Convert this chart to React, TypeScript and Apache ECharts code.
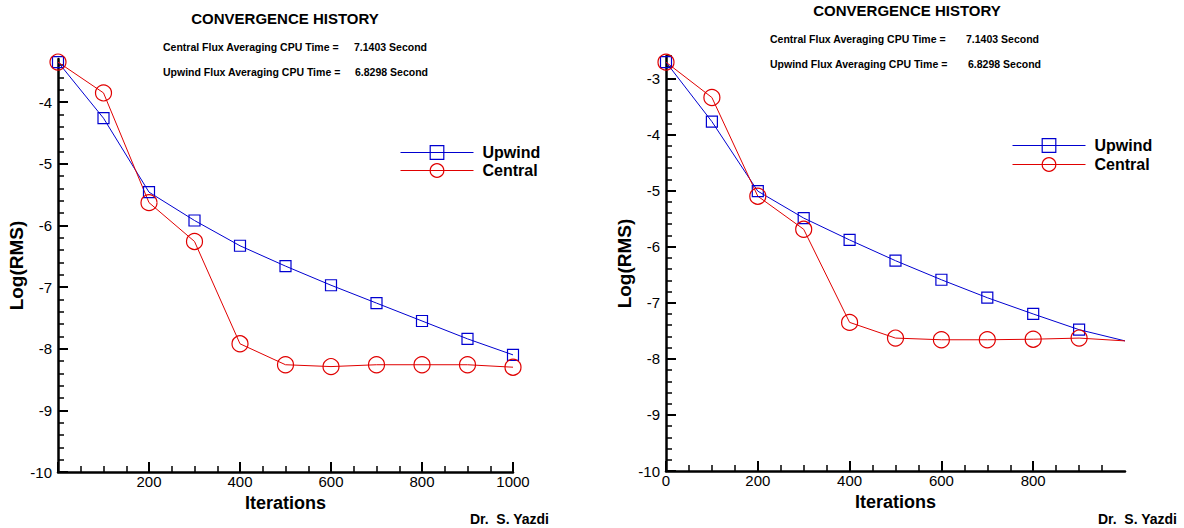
import React, { useEffect, useRef } from "react";
import * as echarts from "echarts";

const iterations = [0, 100, 200, 300, 400, 500, 600, 700, 800, 900, 1000];
const leftUpwind = [-3.35, -4.26, -5.46, -5.92, -6.33, -6.66, -6.97, -7.26, -7.55, -7.84, -8.1];
const leftCentral = [-3.35, -3.85, -5.63, -6.26, -7.92, -8.26, -8.29, -8.26, -8.26, -8.26, -8.3];
const rightUpwind = [-2.71, -3.77, -5.01, -5.49, -5.88, -6.25, -6.59, -6.91, -7.2, -7.48, -7.68];
const rightCentral = [-2.71, -3.34, -5.1, -5.69, -7.35, -7.63, -7.66, -7.66, -7.65, -7.63, -7.68];

const leftYMajor = [-10, -9, -8, -7, -6, -5, -4];
const rightYMajor = [-10, -9, -8, -7, -6, -5, -4, -3];
const rightXMajor = [0, 200, 400, 600, 800];

const titleText = "CONVERGENCE HISTORY";
const centralLabel = "Central Flux Averaging CPU Time =";
const upwindLabel = "Upwind Flux Averaging CPU Time =";
const centralTime = "7.1403 Second";
const upwindTime = "6.8298 Second";
const author = "Dr.  S. Yazdi";

const FONT = "Liberation Sans, Arial, Helvetica, sans-serif";
const BLUE = "#0000d0";
const RED = "#e00000";

function minorValues(min: number, max: number, step: number) {
  const out: number[] = [];
  for (let v = min; v <= max + 1e-9; v += step) out.push(Math.round(v * 100) / 100);
  return out;
}

function pts(vals: number[], hideLast: boolean) {
  return vals.map((v, i) =>
    hideLast && i === vals.length - 1
      ? { value: [iterations[i], v], symbol: "none" }
      : [iterations[i], v]
  );
}

function xAxisCfg(gridIndex: number, hideMin: boolean, custom?: number[]) {
  return {
    type: "value",
    gridIndex,
    min: 0,
    max: 1000,
    interval: 200,
    name: "Iterations",
    nameLocation: "middle",
    nameGap: 9,
    nameTextStyle: { fontFamily: FONT, fontWeight: "bold", fontSize: 18, color: "#000" },
    axisLine: { show: true, onZero: false, lineStyle: { color: "#000", width: 2.5 } },
    axisTick: {
      show: true,
      inside: true,
      length: 10,
      lineStyle: { color: "#000", width: 2 },
      ...(custom ? { customValues: custom } : {}),
    },
    minorTick: { show: true, splitNumber: 4, length: 6, lineStyle: { color: "#000", width: 1.5 } },
    axisLabel: {
      color: "#000",
      fontFamily: FONT,
      fontSize: 15,
      margin: 2,
      showMinLabel: !hideMin,
      formatter: (v: number) => String(v),
      ...(custom ? { customValues: custom } : {}),
    },
    splitLine: { show: false },
    minorSplitLine: { show: false },
  };
}

function yMajorCfg(gridIndex: number, max: number, ticks: number[]) {
  return {
    type: "value",
    gridIndex,
    position: "left",
    min: -10,
    max,
    name: "Log(RMS)",
    nameLocation: "middle",
    nameGap: 31,
    nameTextStyle: { fontFamily: FONT, fontWeight: "bold", fontSize: 19, color: "#000" },
    axisLine: { show: true, onZero: false, lineStyle: { color: "#000", width: 2.5 } },
    axisTick: { show: true, inside: true, length: 10, lineStyle: { color: "#000", width: 2 }, customValues: ticks },
    axisLabel: { color: "#000", fontFamily: FONT, fontSize: 15, margin: 6, customValues: ticks },
    splitLine: { show: false },
  };
}

function yMinorCfg(gridIndex: number, max: number) {
  return {
    type: "value",
    gridIndex,
    position: "left",
    min: -10,
    max,
    axisLine: { show: false },
    axisTick: { show: true, inside: true, length: 6, lineStyle: { color: "#000", width: 1.5 }, customValues: minorValues(-10, max, 0.2) },
    axisLabel: { show: false },
    splitLine: { show: false },
  };
}

function lineSeries(name: string, data: any[], xi: number, yi: number, color: string, symbol: string, size: number) {
  return {
    name,
    type: "line",
    xAxisIndex: xi,
    yAxisIndex: yi,
    data,
    symbol,
    symbolSize: size,
    showAllSymbol: true,
    lineStyle: { color, width: 1 },
    itemStyle: { color: "rgba(255,255,255,0)", borderColor: color, borderWidth: 1.2 },
    emphasis: { disabled: true },
  };
}

function boldText(x: number, y: number, text: string, size: number, align = "left") {
  return {
    type: "text",
    x,
    y,
    style: { text, fontFamily: FONT, fontWeight: "bold", fontSize: size, fill: "#000", textAlign: align, textVerticalAlign: "middle" },
  };
}

export default function App() {
  const ref = useRef<HTMLDivElement>(null);
  useEffect(() => {
    if (!ref.current) return;
    const chart = echarts.init(ref.current, null, { renderer: "svg" });
    const legendText = { fontFamily: FONT, fontWeight: "bold", fontSize: 16, color: "#000", padding: [0, 0, 0, 4] };
    const legendBase = {
      orient: "vertical",
      itemWidth: 73,
      itemHeight: 17,
      padding: 0,
      selectedMode: false,
      textStyle: legendText,
      lineStyle: { width: 1 },
      itemStyle: { borderWidth: 1.2 },
      data: ["Upwind", "Central"],
    };
    chart.setOption({
      animation: false,
      backgroundColor: "#fff",
      grid: [
        { left: 58, top: 59, width: 455, height: 413 },
        { left: 666, top: 56, width: 459, height: 415 },
      ],
      xAxis: [xAxisCfg(0, true), xAxisCfg(1, false, rightXMajor)],
      yAxis: [
        yMajorCfg(0, -3.3, leftYMajor),
        yMinorCfg(0, -3.3),
        yMajorCfg(1, -2.6, rightYMajor),
        yMinorCfg(1, -2.6),
      ],
      legend: [
        { ...legendBase, left: 400, top: 144.5, itemGap: 2 },
        { ...legendBase, left: 1012, top: 137.5, itemGap: 3 },
      ],
      series: [
        lineSeries("Upwind", pts(leftUpwind, false), 0, 0, BLUE, "rect", 11),
        lineSeries("Central", pts(leftCentral, false), 0, 0, RED, "circle", 16),
        lineSeries("Upwind", pts(rightUpwind, true), 1, 2, BLUE, "rect", 11),
        lineSeries("Central", pts(rightCentral, true), 1, 2, RED, "circle", 16),
      ],
      graphic: [
        boldText(285, 18, titleText, 15, "center"),
        boldText(907, 10, titleText, 15, "center"),
        boldText(163, 47, centralLabel, 10.5),
        boldText(354, 47, centralTime, 10.5),
        boldText(163, 72, upwindLabel, 10.5),
        boldText(355, 72, upwindTime, 10.5),
        boldText(770, 39, centralLabel, 10.5),
        boldText(966, 39, centralTime, 10.5),
        boldText(770, 64, upwindLabel, 10.5),
        boldText(968, 64, upwindTime, 10.5),
        boldText(549, 519, author, 14, "right"),
        boldText(1177, 519, author, 14, "right"),
      ],
    });
    return () => chart.dispose();
  }, []);
  return <div ref={ref} style={{ position: "absolute", left: 0, top: 0, width: 1184, height: 528 }} />;
}
